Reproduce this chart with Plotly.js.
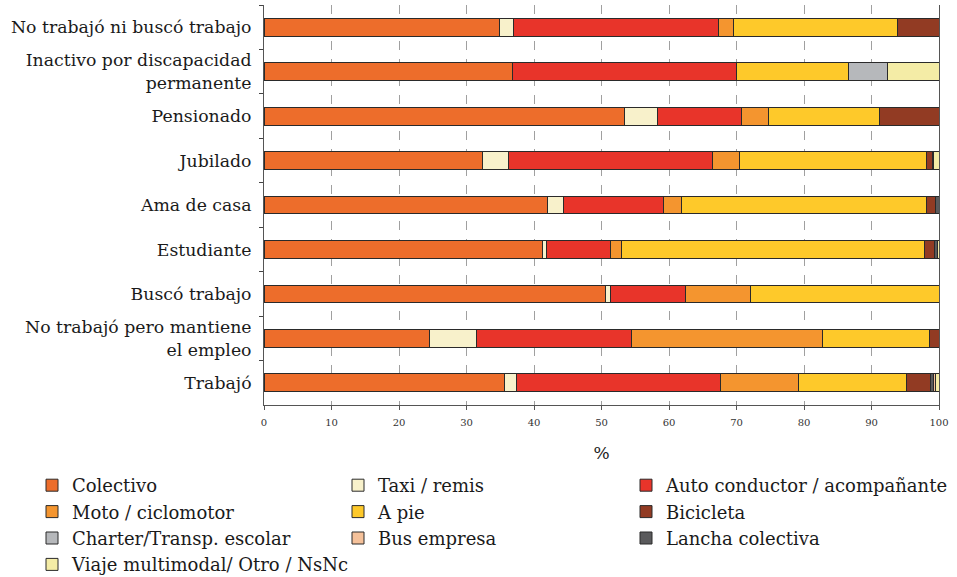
<!DOCTYPE html>
<html>
<head>
<meta charset="utf-8">
<script src="https://cdn.plot.ly/plotly-3.0.1.min.js"></script>
<style>html,body{margin:0;padding:0;background:#fff;}#chart{width:957px;height:577px;}</style>
</head>
<body>
<div id="chart"></div>
<script>
const categories = [
  "No trabajó ni buscó trabajo",
  "Inactivo por discapacidad<br>permanente",
  "Pensionado",
  "Jubilado",
  "Ama de casa",
  "Estudiante",
  "Buscó trabajo",
  "No trabajó pero mantiene<br>el empleo",
  "Trabajó"
];
const colectivo   = [34.9, 36.8, 53.4, 32.4, 42.0, 41.2, 50.6, 24.5, 35.6];
const taxi        = [2.0, 0, 4.9, 3.8, 2.4, 0.6, 0.7, 7.0, 1.8];
const auto        = [30.4, 33.2, 12.5, 30.2, 14.8, 9.5, 11.1, 23.0, 30.3];
const moto        = [2.3, 0, 3.9, 4.1, 2.7, 1.6, 9.7, 28.3, 11.5];
const apie        = [24.2, 16.6, 16.5, 27.7, 36.3, 45.0, 27.9, 15.8, 16.0];
const bicicleta   = [6.2, 0, 8.8, 0.8, 1.3, 1.45, 0, 1.4, 3.6];
const charter     = [0, 5.8, 0, 0.2, 0, 0, 0, 0, 0];
const lancha      = [0, 0, 0, 0, 0.5, 0.5, 0, 0, 0.4];
const busEmpresa  = [0, 0, 0, 0, 0, 0, 0, 0, 0.3];
const multimodal  = [0, 7.6, 0, 0.8, 0, 0.15, 0, 0, 0.5];
const xTicks = [0,10,20,30,40,50,60,70,80,90,100];

const series = [
  {name:"Colectivo", v:colectivo, c:"#ED6D2B", lg:"legend", r:1},
  {name:"Taxi / remis", v:taxi, c:"#F8F1CB", lg:"legend2", r:1},
  {name:"Auto conductor / acompañante", v:auto, c:"#E8342A", lg:"legend3", r:1},
  {name:"Moto / ciclomotor", v:moto, c:"#F4952F", lg:"legend", r:2},
  {name:"A pie", v:apie, c:"#FEC92A", lg:"legend2", r:2},
  {name:"Bicicleta", v:bicicleta, c:"#923B23", lg:"legend3", r:2},
  {name:"Charter/Transp. escolar", v:charter, c:"#B6B8BB", lg:"legend", r:3},
  {name:"Lancha colectiva", v:lancha, c:"#5A5A5C", lg:"legend3", r:3},
  {name:"Bus empresa", v:busEmpresa, c:"#F5C19A", lg:"legend2", r:3},
  {name:"Viaje multimodal/ Otro / NsNc", v:multimodal, c:"#F4ECA6", lg:"legend", r:4}
];

const data = series.map(s => ({
  type: "bar",
  orientation: "h",
  name: s.name,
  y: categories,
  x: s.v,
  legend: s.lg,
  legendrank: s.r,
  marker: {color: s.c, line: {color: "#2a2a2a", width: 1}},
  hoverinfo: "name+x"
}));

const FONT = "DejaVu Serif, serif";
const legendBase = (xpx) => ({
  xref: "container", yref: "container",
  x: xpx / 957, xanchor: "left",
  y: 1 - 467 / 577, yanchor: "top",
  orientation: "v",
  traceorder: "normal",
  font: {family: FONT, size: 18, color: "#1a1a1a"},
  itemwidth: 30,
  bgcolor: "rgba(0,0,0,0)"
});

const layout = {
  width: 957, height: 577,
  barmode: "stack",
  bargap: 0.6,
  margin: {l: 264, r: 18, t: 5, b: 172, autoexpand: false},
  paper_bgcolor: "#fff",
  plot_bgcolor: "#fff",
  font: {family: FONT, color: "#1a1a1a"},
  xaxis: {
    range: [0, 100],
    tickvals: xTicks,
    ticktext: xTicks.map(String),
    tickangle: 0,
    showgrid: true,
    gridcolor: "#a0a0a0",
    griddash: "dash",
    gridwidth: 1,
    zeroline: false,
    showline: true,
    linecolor: "#555",
    ticks: "outside",
    ticklen: 4,
    tickcolor: "#555",
    tickfont: {family: FONT, size: 10, color: "#333"},
    ticklabelstandoff: 4,
    title: {text: "%", font: {family: FONT, size: 17, color: "#1a1a1a"}, standoff: 20},
    fixedrange: true
  },
  yaxis: {
    autorange: "reversed",
    type: "category",
    showgrid: false,
    showline: true,
    linecolor: "#555",
    mirror: true,
    ticks: "outside",
    tickson: "boundaries",
    ticklen: 4,
    tickcolor: "#444",
    tickfont: {family: FONT, size: 17.3, color: "#1a1a1a"},
    ticklabelstandoff: 8,
    fixedrange: true
  },
  showlegend: true,
  legend: legendBase(32),
  legend2: legendBase(338),
  legend3: legendBase(626)
};

Plotly.newPlot("chart", data, layout, {displayModeBar: false, staticPlot: true});
</script>
</body>
</html>
